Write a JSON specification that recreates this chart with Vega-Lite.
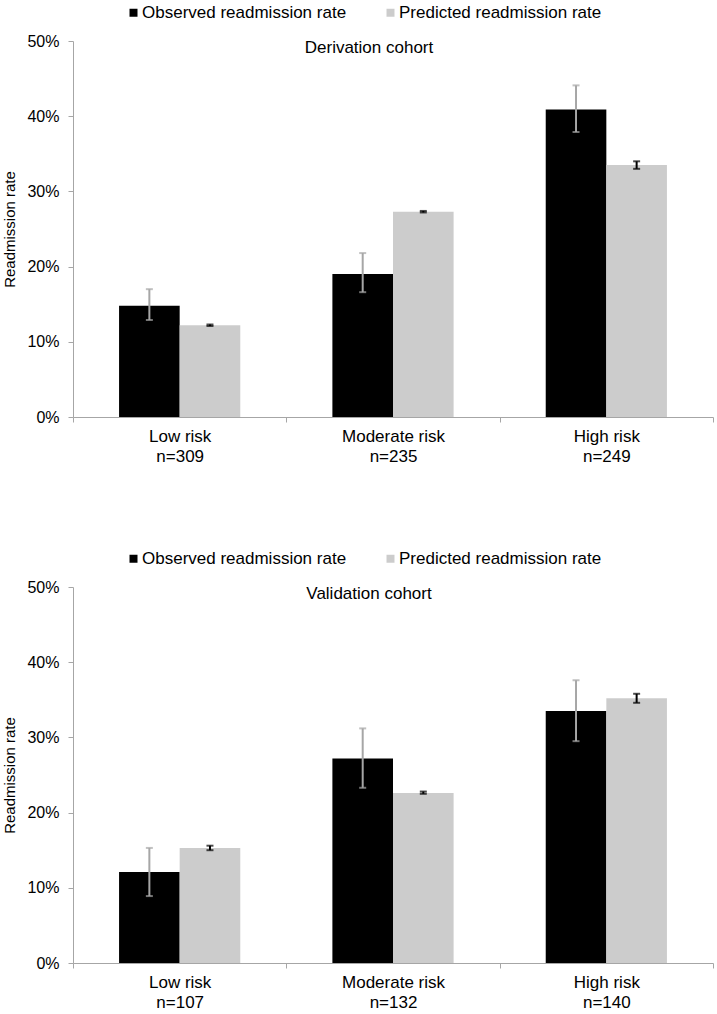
{
  "$schema": "https://vega.github.io/schema/vega-lite/v6.json",
  "padding": {"left": 2, "top": 4, "right": 4, "bottom": 4},
  "config": {
    "font": "Liberation Sans",
    "view": {"stroke": null},
    "axis": {"domainColor": "#a6a6a6", "tickColor": "#a6a6a6", "labelColor": "#000", "titleColor": "#000", "labelFont": "Liberation Sans", "titleFont": "Liberation Sans"},
    "legend": {"labelFont": "Liberation Sans", "labelColor": "#000"}
  },
  "datasets": {
    "deriv": [
      {"risk": "Low risk|n=309", "series": "Observed readmission rate", "rate": 0.148, "lo": 0.129, "hi": 0.170},
      {"risk": "Low risk|n=309", "series": "Predicted readmission rate", "rate": 0.122, "lo": 0.121, "hi": 0.123},
      {"risk": "Moderate risk|n=235", "series": "Observed readmission rate", "rate": 0.190, "lo": 0.166, "hi": 0.218},
      {"risk": "Moderate risk|n=235", "series": "Predicted readmission rate", "rate": 0.273, "lo": 0.272, "hi": 0.274},
      {"risk": "High risk|n=249", "series": "Observed readmission rate", "rate": 0.409, "lo": 0.379, "hi": 0.441},
      {"risk": "High risk|n=249", "series": "Predicted readmission rate", "rate": 0.335, "lo": 0.330, "hi": 0.340}
    ],
    "valid": [
      {"risk": "Low risk|n=107", "series": "Observed readmission rate", "rate": 0.121, "lo": 0.089, "hi": 0.153},
      {"risk": "Low risk|n=107", "series": "Predicted readmission rate", "rate": 0.153, "lo": 0.150, "hi": 0.156},
      {"risk": "Moderate risk|n=132", "series": "Observed readmission rate", "rate": 0.272, "lo": 0.233, "hi": 0.312},
      {"risk": "Moderate risk|n=132", "series": "Predicted readmission rate", "rate": 0.226, "lo": 0.225, "hi": 0.228},
      {"risk": "High risk|n=140", "series": "Observed readmission rate", "rate": 0.335, "lo": 0.295, "hi": 0.376},
      {"risk": "High risk|n=140", "series": "Predicted readmission rate", "rate": 0.352, "lo": 0.346, "hi": 0.358}
    ],
    "t1": [{"t": "Derivation cohort"}],
    "t2": [{"t": "Validation cohort"}]
  },
  "spacing": 86,
  "resolve": {"scale": {"x": "independent", "fill": "independent", "stroke": "independent"}, "legend": {"fill": "independent"}},
  "vconcat": [
    {
      "width": 640,
      "height": 376,
      "layer": [
        {
          "data": {"name": "deriv"},
          "mark": {"type": "bar"},
          "encoding": {
            "x": {"field": "risk", "type": "nominal", "sort": null, "scale": {"paddingInner": 0, "paddingOuter": 0},
                  "axis": {"title": null, "labelAngle": 0, "labelExpr": "split(datum.label, '|')", "tickBand": "extent", "tickSize": 5, "labelFontSize": 17, "labelPadding": 6, "labelLineHeight": 20}},
            "xOffset": {"field": "series", "type": "nominal", "sort": ["Observed readmission rate", "Predicted readmission rate"], "scale": {"paddingInner": 0, "paddingOuter": 0.76}},
            "y": {"field": "rate", "type": "quantitative", "scale": {"domain": [0, 0.5]},
                  "axis": {"title": "Readmission rate", "format": ".0%", "values": [0, 0.1, 0.2, 0.3, 0.4, 0.5], "grid": false, "tickSize": 5, "labelFontSize": 16, "labelPadding": 9, "titleFontSize": 15, "titleFontWeight": "normal", "titlePadding": 9}},
            "fill": {"field": "series", "type": "nominal", "scale": {"domain": ["Observed readmission rate", "Predicted readmission rate"], "range": ["#000000", "#cccccc"]},
                     "legend": {"orient": "none", "legendX": 52, "legendY": -37, "direction": "horizontal", "title": null, "symbolType": "square", "symbolSize": 64, "symbolStrokeWidth": 0, "labelFontSize": 17, "labelOffset": 0, "labelLimit": 400, "columnPadding": 35}}
          }
        },
        {
          "data": {"name": "deriv"},
          "mark": {"type": "rule", "strokeWidth": 2},
          "encoding": {
            "x": {"field": "risk", "type": "nominal", "sort": null},
            "xOffset": {"field": "series", "type": "nominal", "sort": ["Observed readmission rate", "Predicted readmission rate"]},
            "y": {"field": "lo", "type": "quantitative"},
            "y2": {"field": "hi"},
            "stroke": {"field": "series", "type": "nominal", "scale": {"domain": ["Observed readmission rate", "Predicted readmission rate"], "range": ["#a6a6a6", "#000000"]}, "legend": null}
          }
        },
        {
          "data": {"name": "deriv"},
          "mark": {"type": "tick", "size": 7, "thickness": 2},
          "encoding": {
            "x": {"field": "risk", "type": "nominal", "sort": null},
            "xOffset": {"field": "series", "type": "nominal", "sort": ["Observed readmission rate", "Predicted readmission rate"]},
            "y": {"field": "lo", "type": "quantitative"},
            "color": {"field": "series", "type": "nominal", "scale": {"domain": ["Observed readmission rate", "Predicted readmission rate"], "range": ["#a6a6a6", "#000000"]}, "legend": null}
          }
        },
        {
          "data": {"name": "deriv"},
          "mark": {"type": "tick", "size": 7, "thickness": 2},
          "encoding": {
            "x": {"field": "risk", "type": "nominal", "sort": null},
            "xOffset": {"field": "series", "type": "nominal", "sort": ["Observed readmission rate", "Predicted readmission rate"]},
            "y": {"field": "hi", "type": "quantitative"},
            "color": {"field": "series", "type": "nominal", "scale": {"domain": ["Observed readmission rate", "Predicted readmission rate"], "range": ["#a6a6a6", "#000000"]}, "legend": null}
          }
        },
        {
          "data": {"name": "t1"},
          "mark": {"type": "text", "fontSize": 17, "color": "#000", "baseline": "middle", "dx": -24},
          "encoding": {
            "x": {"datum": "Moderate risk|n=235", "type": "nominal"},
            "y": {"datum": 0.491, "type": "quantitative"},
            "text": {"field": "t"}
          }
        }
      ]
    },
    {
      "width": 640,
      "height": 376,
      "layer": [
        {
          "data": {"name": "valid"},
          "mark": {"type": "bar"},
          "encoding": {
            "x": {"field": "risk", "type": "nominal", "sort": null, "scale": {"paddingInner": 0, "paddingOuter": 0},
                  "axis": {"title": null, "labelAngle": 0, "labelExpr": "split(datum.label, '|')", "tickBand": "extent", "tickSize": 5, "labelFontSize": 17, "labelPadding": 6, "labelLineHeight": 20}},
            "xOffset": {"field": "series", "type": "nominal", "sort": ["Observed readmission rate", "Predicted readmission rate"], "scale": {"paddingInner": 0, "paddingOuter": 0.76}},
            "y": {"field": "rate", "type": "quantitative", "scale": {"domain": [0, 0.5]},
                  "axis": {"title": "Readmission rate", "format": ".0%", "values": [0, 0.1, 0.2, 0.3, 0.4, 0.5], "grid": false, "tickSize": 5, "labelFontSize": 16, "labelPadding": 9, "titleFontSize": 15, "titleFontWeight": "normal", "titlePadding": 9}},
            "fill": {"field": "series", "type": "nominal", "scale": {"domain": ["Observed readmission rate", "Predicted readmission rate"], "range": ["#000000", "#cccccc"]},
                     "legend": {"orient": "none", "legendX": 52, "legendY": -37, "direction": "horizontal", "title": null, "symbolType": "square", "symbolSize": 64, "symbolStrokeWidth": 0, "labelFontSize": 17, "labelOffset": 0, "labelLimit": 400, "columnPadding": 35}}
          }
        },
        {
          "data": {"name": "valid"},
          "mark": {"type": "rule", "strokeWidth": 2},
          "encoding": {
            "x": {"field": "risk", "type": "nominal", "sort": null},
            "xOffset": {"field": "series", "type": "nominal", "sort": ["Observed readmission rate", "Predicted readmission rate"]},
            "y": {"field": "lo", "type": "quantitative"},
            "y2": {"field": "hi"},
            "stroke": {"field": "series", "type": "nominal", "scale": {"domain": ["Observed readmission rate", "Predicted readmission rate"], "range": ["#a6a6a6", "#000000"]}, "legend": null}
          }
        },
        {
          "data": {"name": "valid"},
          "mark": {"type": "tick", "size": 7, "thickness": 2},
          "encoding": {
            "x": {"field": "risk", "type": "nominal", "sort": null},
            "xOffset": {"field": "series", "type": "nominal", "sort": ["Observed readmission rate", "Predicted readmission rate"]},
            "y": {"field": "lo", "type": "quantitative"},
            "color": {"field": "series", "type": "nominal", "scale": {"domain": ["Observed readmission rate", "Predicted readmission rate"], "range": ["#a6a6a6", "#000000"]}, "legend": null}
          }
        },
        {
          "data": {"name": "valid"},
          "mark": {"type": "tick", "size": 7, "thickness": 2},
          "encoding": {
            "x": {"field": "risk", "type": "nominal", "sort": null},
            "xOffset": {"field": "series", "type": "nominal", "sort": ["Observed readmission rate", "Predicted readmission rate"]},
            "y": {"field": "hi", "type": "quantitative"},
            "color": {"field": "series", "type": "nominal", "scale": {"domain": ["Observed readmission rate", "Predicted readmission rate"], "range": ["#a6a6a6", "#000000"]}, "legend": null}
          }
        },
        {
          "data": {"name": "t2"},
          "mark": {"type": "text", "fontSize": 17, "color": "#000", "baseline": "middle", "dx": -24},
          "encoding": {
            "x": {"datum": "Moderate risk|n=132", "type": "nominal"},
            "y": {"datum": 0.491, "type": "quantitative"},
            "text": {"field": "t"}
          }
        }
      ]
    }
  ]
}
